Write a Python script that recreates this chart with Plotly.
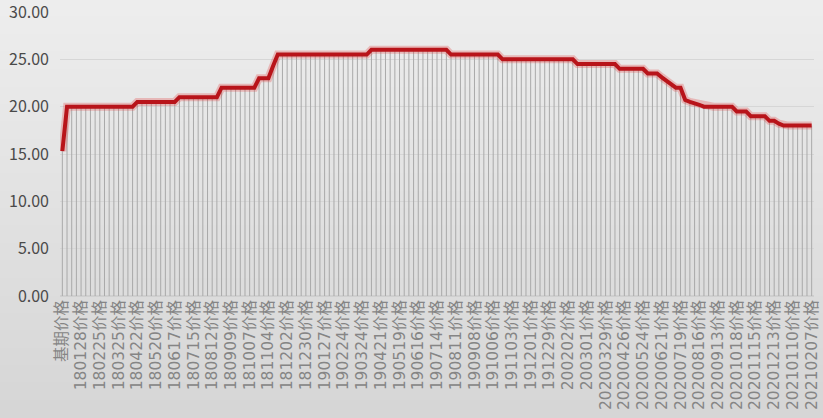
import plotly.graph_objects as go

base_label = "基期"
dates = [
    "180107", "180114", "180121", "180128", "180204", "180211", "180218", "180225",
    "180304", "180311", "180318", "180325", "180401", "180408", "180415", "180422",
    "180429", "180506", "180513", "180520", "180527", "180603", "180610", "180617",
    "180624", "180701", "180708", "180715", "180722", "180729", "180805", "180812",
    "180819", "180826", "180902", "180909", "180916", "180923", "180930", "181007",
    "181014", "181021", "181028", "181104", "181111", "181118", "181125", "181202",
    "181209", "181216", "181223", "181230",
    "190106", "190113", "190120", "190127", "190203", "190210", "190217", "190224",
    "190303", "190310", "190317", "190324", "190331", "190407", "190414", "190421",
    "190428", "190505", "190512", "190519", "190526", "190602", "190609", "190616",
    "190623", "190630", "190707", "190714", "190721", "190728", "190804", "190811",
    "190818", "190825", "190901", "190908", "190915", "190922", "190929", "191006",
    "191013", "191020", "191027", "191103", "191110", "191117", "191124", "191201",
    "191208", "191215", "191222", "191229",
    "200105", "200112", "200119", "200202", "200209", "200216", "200223", "200301",
    "20200308", "20200315", "20200322", "20200329", "20200405", "20200412", "20200419", "20200426",
    "20200503", "20200510", "20200517", "20200524", "20200531", "20200607", "20200614", "20200621",
    "20200628", "20200705", "20200712", "20200719", "20200726", "20200802", "20200809", "20200816",
    "20200823", "20200830", "20200906", "20200913", "20200920", "20200927", "20201011", "20201018",
    "20201025", "20201101", "20201108", "20201115", "20201122", "20201129", "20201206", "20201213",
    "20201220", "20201227", "20210103", "20210110", "20210117", "20210124", "20210131", "20210207",
]
categories = [base_label + "价格"] + [d + "价格" for d in dates]

prices = [
    15.3,
    20.0, 20.0, 20.0, 20.0, 20.0, 20.0, 20.0, 20.0, 20.0, 20.0, 20.0, 20.0, 20.0, 20.0, 20.0,
    20.5, 20.5, 20.5, 20.5, 20.5, 20.5, 20.5, 20.5, 20.5,
    21.0, 21.0, 21.0, 21.0, 21.0, 21.0, 21.0, 21.0, 21.0,
    22.0, 22.0, 22.0, 22.0, 22.0, 22.0, 22.0, 22.0,
    23.0, 23.0, 23.0,
    24.3,
    25.5, 25.5, 25.5, 25.5, 25.5, 25.5, 25.5, 25.5, 25.5, 25.5,
    25.5, 25.5, 25.5, 25.5, 25.5, 25.5, 25.5, 25.5, 25.5, 25.5,
    26.0, 26.0, 26.0, 26.0, 26.0, 26.0, 26.0, 26.0, 26.0, 26.0,
    26.0, 26.0, 26.0, 26.0, 26.0, 26.0, 26.0,
    25.5, 25.5, 25.5, 25.5, 25.5, 25.5, 25.5, 25.5, 25.5, 25.5, 25.5,
    25.0, 25.0, 25.0, 25.0, 25.0, 25.0, 25.0, 25.0, 25.0, 25.0,
    25.0, 25.0, 25.0, 25.0, 25.0, 25.0,
    24.5, 24.5, 24.5, 24.5, 24.5, 24.5, 24.5, 24.5, 24.5,
    24.0, 24.0, 24.0, 24.0, 24.0, 24.0,
    23.5, 23.5, 23.5,
    23.1, 22.7, 22.3, 22.0, 22.0,
    20.7, 20.5, 20.4, 20.2,
    20.0, 20.0, 20.0, 20.0, 20.0, 20.0, 20.0,
    19.5, 19.5, 19.5,
    19.0, 19.0, 19.0, 19.0,
    18.5, 18.5,
    18.2,
    18.0, 18.0, 18.0, 18.0, 18.0, 18.0, 18.0,
]

tick_labels = categories[::4]

y_ticks = [0, 5, 10, 15, 20, 25, 30]

W, H = 823, 418
m_l, m_r, m_t, m_b = 60, 9, 12, 122
plot_h = H - m_t - m_b
plot_w = W - m_l - m_r

fig = go.Figure()

# background gradient bands (paper coordinates extend into margins)
top_c = (237, 237, 237)
bot_c = (214, 214, 214)
n_bands = 24
y_top = 1 + m_t / plot_h
y_bot = -m_b / plot_h
for i in range(n_bands):
    t = (i + 0.5) / n_bands
    c = tuple(int(round(top_c[k] + (bot_c[k] - top_c[k]) * t)) for k in range(3))
    y0 = y_top - (y_top - y_bot) * i / n_bands
    y1 = y_top - (y_top - y_bot) * (i + 1) / n_bands
    fig.add_shape(type="rect", xref="paper", yref="paper",
                  x0=-m_l / plot_w - 0.02, x1=1 + m_r / plot_w + 0.02,
                  y0=y1 - 0.003 - (0.05 if i == n_bands - 1 else 0),
                  y1=y0 + 0.003 + (0.05 if i == 0 else 0),
                  fillcolor="rgb(%d,%d,%d)" % c, line_width=0, layer="below")

# drop lines from each point to the axis
fig.add_trace(go.Scatter(
    x=categories, y=prices, mode="markers",
    marker=dict(size=1, color="rgba(0,0,0,0)"),
    error_y=dict(type="data", symmetric=False, array=[0] * len(prices),
                 arrayminus=prices, width=0, thickness=1, color="#a9a9a9"),
    hoverinfo="skip", showlegend=False,
))

# glow
fig.add_trace(go.Scatter(
    x=categories, y=prices, mode="lines",
    line=dict(color="rgba(225,70,70,0.30)", width=8),
    hoverinfo="skip", showlegend=False,
))
# main line
fig.add_trace(go.Scatter(
    x=categories, y=prices, mode="lines",
    line=dict(color="#b8141a", width=4),
    hoverinfo="skip", showlegend=False,
))

fig.update_layout(
    width=W, height=H,
    margin=dict(l=m_l, r=m_r, t=m_t, b=m_b, autoexpand=False),
    paper_bgcolor="#e3e3e3",
    plot_bgcolor="rgba(0,0,0,0)",
    font=dict(family="Noto Sans CJK SC, Noto Sans, sans-serif"),
    showlegend=False,
    hovermode=False,
)
fig.update_xaxes(
    type="category",
    categoryorder="array", categoryarray=categories,
    range=[-0.5, len(categories) - 0.5],
    tickmode="array", tickvals=tick_labels, ticktext=tick_labels,
    tickangle=-90,
    tickfont=dict(size=15.5, color="#858585",
                  family="DejaVu Sans, Noto Sans CJK SC, sans-serif"),
    showgrid=False, showline=False, zeroline=False,
    ticks="", automargin=False,
)
fig.update_yaxes(
    range=[0, 30],
    tickmode="array", tickvals=y_ticks,
    tickformat=".2f",
    tickfont=dict(size=16, color="#4a4a4a"),
    showgrid=True, gridcolor="#d6d6d6", gridwidth=1,
    zeroline=True, zerolinecolor="#cfcfcf",
    showline=False, ticks="",
    ticklabelstandoff=10,
    ticklabeloverflow="allow",
    automargin=False,
)

fig.write_html("out.html",
               config={"displayModeBar": False},
               post_script="document.body.style.margin='0';document.body.style.padding='0';")
